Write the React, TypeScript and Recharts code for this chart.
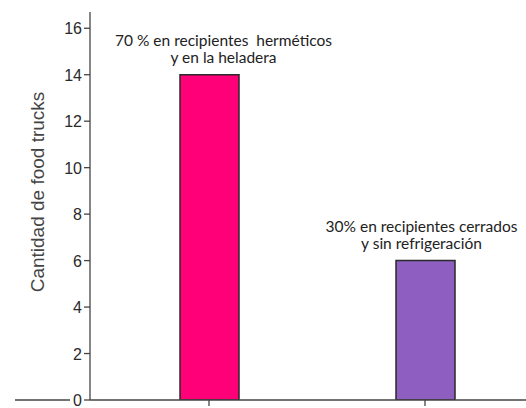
import React from 'react'
import { BarChart, Bar, Cell, XAxis, YAxis, LabelList } from 'recharts'

// Storage method per food truck group
const categories = ['Herméticos y heladera', 'Cerrados sin refrigeración']
const truckCounts = [14, 6]
const labelLines = [
  ['70 % en recipientes  herméticos', 'y en la heladera'],
  ['30% en recipientes cerrados', 'y sin refrigeración'],
]
const yTicks = [0, 2, 4, 6, 8, 10, 12, 14, 16]

const barColors = ['#FF0078', '#8E5FC0']
// horizontal nudge of each annotation relative to its bar
const labelShift = [14, -4]

const data = categories.map((name, i) => ({
  name,
  value: truckCounts[i],
}))

const axisColor = '#444'

const YTick = (props: any) => {
  const { x, y, payload } = props
  return (
    <g>
      {payload.value === 0 && (
        <line x1={15} y1={y} x2={70} y2={y} stroke={axisColor} strokeWidth={1.3} />
      )}
      <text
        x={x}
        y={y}
        dy={6}
        textAnchor="end"
        fill="#2a2a2a"
        fontSize={16}
        fontFamily="Liberation Sans, Arial, sans-serif"
      >
        {payload.value}
      </text>
    </g>
  )
}

const BarNote = (props: any) => {
  const { x, y, width, index } = props
  const cx = x + width / 2 + labelShift[index]
  const lines = labelLines[index]
  return (
    <text
      x={cx}
      y={y - 29}
      textAnchor="middle"
      fill="#222"
      fontSize={15.5}
      fontFamily="Lato, sans-serif"
      style={{ whiteSpace: 'pre' }}
    >
      <tspan x={cx} dy={0}>{lines[0]}</tspan>
      <tspan x={cx} dy={17}>{lines[1]}</tspan>
    </text>
  )
}

export default function App() {
  return (
    <div
      style={{
        position: 'absolute',
        left: 0,
        top: 0,
        width: 526,
        height: 408,
        overflow: 'hidden',
        background: '#fff',
      }}
    >
      <BarChart
        width={540}
        height={408}
        data={data}
        margin={{ top: 12, right: 7, bottom: 0, left: 0 }}
      >
        <XAxis
          dataKey="name"
          height={8}
          padding={{ left: 11, right: 0 }}
          stroke={axisColor}
          strokeWidth={1.3}
          tickSize={6}
          tickFormatter={() => ''}
        />
        <YAxis
          width={90}
          domain={[0, 16.7]}
          ticks={yTicks}
          interval={0}
          allowDataOverflow
          stroke={axisColor}
          strokeWidth={1.3}
          tickSize={6}
          tick={<YTick />}
          label={{
            value: 'Cantidad de food trucks',
            angle: -90,
            position: 'center',
            dx: -8,
            dy: -14,
            fill: '#444',
            fontSize: 19,
            fontFamily: 'Liberation Sans, Arial, sans-serif',
          }}
        />
        <Bar
          dataKey="value"
          barSize={59}
          stroke="#2a2a2a"
          strokeWidth={1.5}
          isAnimationActive={false}
        >
          {data.map((d, i) => (
            <Cell key={d.name} fill={barColors[i]} />
          ))}
          <LabelList dataKey="value" content={<BarNote />} />
        </Bar>
      </BarChart>
    </div>
  )
}
